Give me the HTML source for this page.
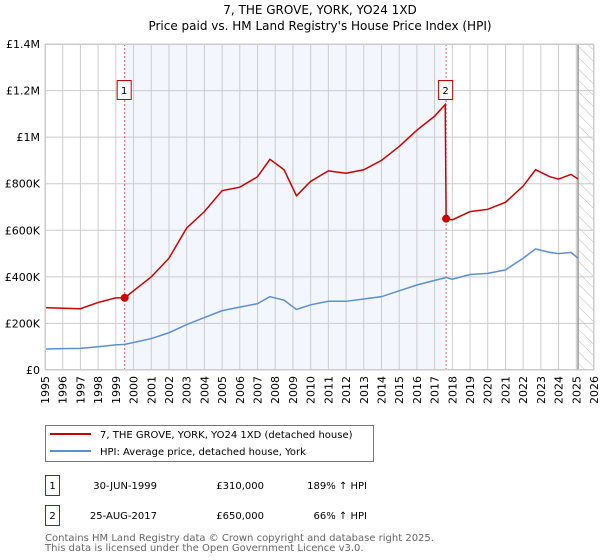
<!DOCTYPE html>
<html><head><meta charset="utf-8"><style>
body{margin:0;background:#fff;}
svg{display:block;font-family:"DejaVu Sans","Liberation Sans",sans-serif;}
</style></head><body>
<svg id="c" width="600" height="560" viewBox="0 0 600 560">
<text x="320" y="14" text-anchor="middle" font-size="12" fill="#000">7, THE GROVE, YORK, YO24 1XD</text>
<text x="320" y="30" text-anchor="middle" font-size="12" fill="#000">Price paid vs. HM Land Registry's House Price Index (HPI)</text>
<g id="plot"></g>
<g>
<rect x="45.5" y="425.5" width="328" height="36" fill="#fff" stroke="#777"/>
<line x1="50" y1="434" x2="91" y2="434" stroke="#cc0000" stroke-width="2"/>
<text x="100" y="438" font-size="10" fill="#000">7, THE GROVE, YORK, YO24 1XD (detached house)</text>
<line x1="50" y1="451" x2="91" y2="451" stroke="#5b8fd6" stroke-width="2"/>
<text x="100" y="455" font-size="10" fill="#000">HPI: Average price, detached house, York</text>
</g>
<g font-size="10" fill="#000">
<rect x="45.5" y="475.5" width="14" height="20" fill="none" stroke="#cc0000"/>
<text x="52.5" y="489" text-anchor="middle">1</text>
<text x="157" y="489" text-anchor="end">30-JUN-1999</text>
<text x="264" y="489" text-anchor="end">£310,000</text>
<text x="367" y="489" text-anchor="end">189% ↑ HPI</text>
<rect x="45.5" y="505.5" width="14" height="20" fill="none" stroke="#cc0000"/>
<text x="52.5" y="519" text-anchor="middle">2</text>
<text x="157" y="519" text-anchor="end">25-AUG-2017</text>
<text x="264" y="519" text-anchor="end">£650,000</text>
<text x="367" y="519" text-anchor="end">66% ↑ HPI</text>
</g>
<text x="45" y="541" font-size="10" fill="#666">Contains HM Land Registry data © Crown copyright and database right 2025.</text>
<text x="45" y="551" font-size="10" fill="#666">This data is licensed under the Open Government Licence v3.0.</text>
</svg>
<script>
const years=[1995,1996,1997,1998,1999,2000,2001,2002,2003,2004,2005,2006,2007,2008,2009,2010,2011,2012,2013,2014,2015,2016,2017,2018,2019,2020,2021,2022,2023,2024,2025,2026];
const yTicks=[0,200000,400000,600000,800000,1000000,1200000,1400000];
const yTickLabels=["£0","£200K","£400K","£600K","£800K","£1M","£1.2M","£1.4M"];
const hpiDates=[1995,1996,1997,1998,1999,1999.5,2000,2001,2002,2003,2004,2005,2006,2007,2007.7,2008.5,2009.2,2010,2011,2012,2013,2014,2015,2016,2017,2017.65,2018,2019,2020,2021,2022,2022.7,2023.5,2024,2024.7,2025.1];
const hpiValues=[90,92,93,100,108,110,118,135,160,195,225,255,270,285,315,300,260,280,295,295,305,315,340,365,385,397,390,410,415,430,480,520,505,500,505,480];
const propDates=[1995,1996,1997,1998,1999,1999.5,2000,2001,2002,2003,2004,2005,2006,2007,2007.7,2008.5,2009.2,2010,2011,2012,2013,2014,2015,2016,2017,2017.6,2017.65,2018,2019,2020,2021,2022,2022.7,2023.5,2024,2024.7,2025.1];
const propValues=[268,265,263,290,310,310,340,400,480,610,680,770,785,830,905,860,748,810,855,845,860,900,960,1030,1090,1140,650,645,680,690,720,790,860,830,820,840,820];
const saleDates=[1999.5,2017.65];
const saleValues=[310,650];
const saleLabels=["1","2"];
const X0=45,X1=594,Y0=370,Y1=44;
const xs=t=>X0+(t-1995)/(2026-1995)*(X1-X0);
const ys=v=>Y0-v/1400000*(Y0-Y1);
const NS="http://www.w3.org/2000/svg";
const g=document.getElementById('plot');
function mk(tag,attrs){const e=document.createElementNS(NS,tag);for(const k in attrs)e.setAttribute(k,attrs[k]);g.appendChild(e);return e;}
let e;
e=mk('rect',{x:xs(1999.5),y:Y1,width:xs(2017.65)-xs(1999.5),height:Y0-Y1,fill:'#f0f4fd',opacity:0.8});


const defs=document.createElementNS(NS,'defs');
defs.innerHTML='<pattern id="hatch" width="8" height="8" patternUnits="userSpaceOnUse" patternTransform="rotate(-45)"><line x1="0" y1="0" x2="0" y2="8" stroke="#bbb" stroke-width="1"/></pattern>';
g.appendChild(defs);
e=mk('rect',{x:xs(2025.1),y:Y1,width:X1-xs(2025.1),height:Y0-Y1,fill:'url(#hatch)'});


years.forEach(y=>{
 e=mk('line',{x1:xs(y),x2:xs(y),y1:Y1,y2:Y0,stroke:'#ccc','stroke-width':1});
 
 
 const t=mk('text',{x:0,y:0,'font-size':11,fill:'#000','text-anchor':'end',transform:`translate(${xs(y)+4},${Y0+6}) rotate(-90)`});
 t.textContent=y;
 
 
});
yTicks.forEach((v,i)=>{
 e=mk('line',{x1:X0,x2:X1,y1:ys(v),y2:ys(v),stroke:'#ccc','stroke-width':1});
 
 
 const t=mk('text',{x:40,y:ys(v)+4,'font-size':11,fill:'#000','text-anchor':'end'});
 t.textContent=yTickLabels[i];
 
 
});
e=mk('line',{x1:xs(2025.1),x2:xs(2025.1),y1:Y1,y2:Y0,stroke:'#999','stroke-width':1.5});


saleDates.forEach(d=>{
 e=mk('line',{x1:xs(d),x2:xs(d),y1:Y1,y2:Y0,stroke:'#e06060','stroke-width':1,'stroke-dasharray':'2,2'});
 
 
});
e=mk('polyline',{points:hpiDates.map((d,i)=>xs(d)+','+ys(hpiValues[i]*1000)).join(' '),fill:'none',stroke:'#5b8fd6','stroke-width':1.5});


e=mk('polyline',{points:propDates.map((d,i)=>xs(d)+','+ys(propValues[i]*1000)).join(' '),fill:'none',stroke:'#cc0000','stroke-width':1.5});


saleDates.forEach((d,i)=>{
 e=mk('circle',{cx:xs(d),cy:ys(saleValues[i]*1000),r:4,fill:'#cc0000'});
 
 
 e=mk('rect',{x:xs(d)-7.5,y:80.5,width:14,height:19,fill:'#fff',stroke:'#cc0000'});
 
 
 const t=mk('text',{x:xs(d)-0.5,y:94,'font-size':10,'text-anchor':'middle',fill:'#000'});
 t.textContent=saleLabels[i];
 
 
});
e=mk('rect',{x:X0+0.5,y:Y1+0.5,width:X1-X0-1,height:Y0-Y1-1,fill:'none',stroke:'#ccc'});


</script>
</body></html>
